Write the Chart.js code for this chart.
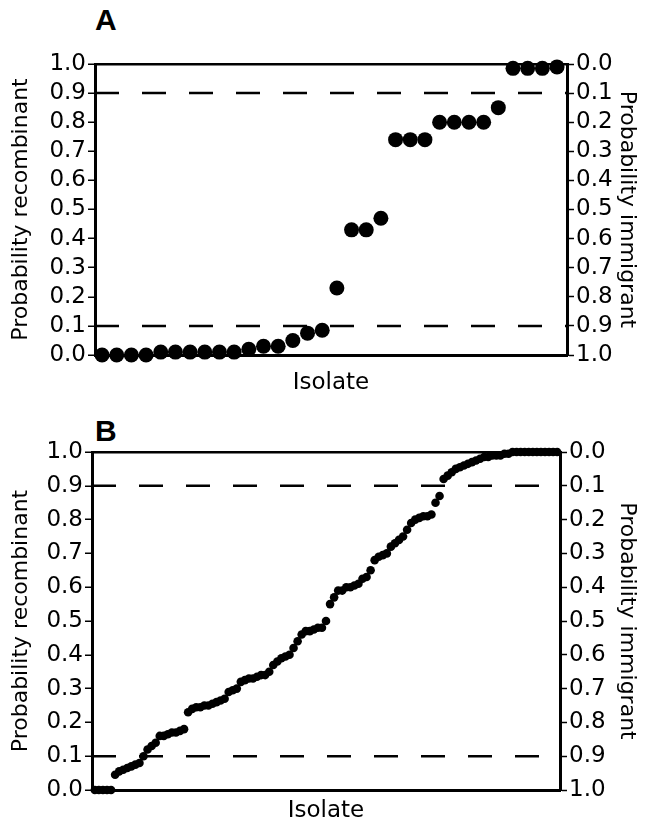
<!DOCTYPE html>
<html>
<head>
<meta charset="utf-8">
<script src="https://cdn.jsdelivr.net/npm/chart.js@4"></script>
<style>
  body { margin: 0; background: #fff; width: 649px; height: 826px; position: relative; overflow: hidden; }
  .panel { position: absolute; left: 0; }
  .tag { position: absolute; font: bold 30px "Liberation Sans", Arial, sans-serif; color: #000; }
</style>
</head>
<body>
<div class="tag" style="left:95px; top:3px;">A</div>
<div class="tag" style="left:95px; top:414px;">B</div>
<div class="panel" style="top:0; width:649px; height:400px;"><canvas id="chartA"></canvas></div>
<div class="panel" style="top:400px; width:649px; height:426px;"><canvas id="chartB"></canvas></div>
<script>
// probability recombinant per isolate, sorted
var probA = [0.0, 0.0, 0.0, 0.0, 0.01, 0.01, 0.01, 0.01, 0.01, 0.01, 0.02, 0.03, 0.03, 0.05, 0.075, 0.085,
             0.23, 0.43, 0.43, 0.47, 0.74, 0.74, 0.74, 0.80, 0.80, 0.80, 0.80, 0.85, 0.985, 0.985, 0.985, 0.99];
var probB = [0, 0, 0, 0, 0,
             0.045, 0.055, 0.06, 0.065, 0.07, 0.075, 0.08,
             0.10, 0.12, 0.13, 0.14,
             0.16, 0.16, 0.165, 0.17, 0.17, 0.175, 0.18,
             0.23, 0.24, 0.245, 0.245, 0.25, 0.25, 0.255, 0.26,
             0.265, 0.27,
             0.29, 0.295, 0.30,
             0.32, 0.325, 0.33, 0.33, 0.335, 0.34, 0.34, 0.35,
             0.37, 0.38, 0.39, 0.395, 0.40,
             0.42, 0.44, 0.46, 0.47,
             0.47, 0.475, 0.48, 0.48, 0.50,
             0.55, 0.57,
             0.59, 0.59, 0.60, 0.60, 0.605, 0.61,
             0.625, 0.63, 0.65,
             0.68, 0.69, 0.695, 0.70,
             0.72, 0.73, 0.74, 0.75, 0.77,
             0.79, 0.80, 0.805, 0.81, 0.81, 0.815,
             0.85, 0.87,
             0.92, 0.93, 0.94,
             0.95, 0.955, 0.96, 0.965, 0.97, 0.975, 0.98,
             0.985, 0.985, 0.99, 0.99, 0.99, 0.995, 0.995, 1.0, 1.0,
             1.0, 1.0, 1.0, 1.0, 1.0, 1.0, 1.0, 1.0, 1.0, 1.0];
var thresholds = [0.1, 0.9];
var leftTitle = 'Probability recombinant';
var rightTitle = 'Probability immigrant';
var xTitle = 'Isolate';

var FONT = '"DejaVu Sans", sans-serif';

function makeChart(id, values, cfg) {
  var pts = values.map(function(v, i) { return {x: i + 1, y: v}; });
  var datasets = [{
    data: pts,
    backgroundColor: '#000',
    borderColor: '#000',
    pointRadius: cfg.radius,
    pointBorderWidth: 0,
    showLine: false,
    clip: false,
    order: 0
  }];
  thresholds.forEach(function(t) {
    datasets.push({
      data: [{x: cfg.xmin, y: t}, {x: cfg.xmax, y: t}],
      showLine: true,
      borderColor: '#000',
      borderWidth: 2.5,
      borderDash: [24, 23],
      pointRadius: 0,
      order: 1
    });
  });
  var tickFont = {family: FONT, size: 23};
  var titleFont = {family: FONT, size: 22};
  return new Chart(document.getElementById(id), {
    type: 'scatter',
    data: {datasets: datasets},
    options: {
      responsive: true,
      maintainAspectRatio: false,
      animation: false,
      layout: {padding: {top: cfg.top, left: 0, right: 0, bottom: 0}},
      plugins: {legend: {display: false}, tooltip: {enabled: false}},
      scales: {
        x: {
          type: 'linear',
          min: cfg.xmin, max: cfg.xmax,
          ticks: {display: false},
          grid: {display: false},
          border: {display: true, color: '#000', width: 3},
          title: {display: true, text: xTitle, color: '#000', font: {family: FONT, size: 23}, align: 'center',
                  padding: {top: 0, bottom: cfg.xTitlePad}},
          afterFit: function(s) { s.height = cfg.xh; }
        },
        y: {
          position: 'left',
          min: 0, max: 1,
          ticks: {stepSize: 0.1, autoSkip: false, color: '#000', font: tickFont, padding: 2,
                  callback: function(v) { return v.toFixed(1); }},
          grid: {
            drawOnChartArea: true,
            color: function(c) { return c.tick && Math.abs(c.tick.value - 1) < 1e-6 ? '#000' : 'rgba(0,0,0,0)'; },
            lineWidth: 2.5,
            tickColor: '#000', tickLength: 7, tickWidth: 1.5
          },
          border: {display: true, color: '#000', width: 3},
          title: {display: true, text: leftTitle, color: '#000', font: titleFont, padding: {top: 8, bottom: 0}},
          afterFit: function(s) { s.width = cfg.lw; }
        },
        y2: {
          position: 'right',
          min: 0, max: 1,
          reverse: true,
          ticks: {stepSize: 0.1, autoSkip: false, color: '#000', font: tickFont, padding: 2,
                  callback: function(v) { return v.toFixed(1); }},
          grid: {drawOnChartArea: false, tickColor: '#000', tickLength: 7, tickWidth: 1.5},
          border: {display: true, color: '#000', width: 3},
          title: {display: true, text: rightTitle, color: '#000', font: titleFont, padding: {top: 9, bottom: 0}},
          afterFit: function(s) { s.width = cfg.rw; }
        }
      }
    }
  });
}

makeChart('chartA', probA, {radius: 7.5, xmin: 0.52, xmax: 32.68, top: 64, xh: 45, xTitlePad: 3, lw: 95, rw: 82});
makeChart('chartB', probB, {radius: 4.3, xmin: 0.3, xmax: probB.length + 0.7, top: 52, xh: 36, xTitlePad: 1, lw: 92, rw: 89});
</script>
</body>
</html>
